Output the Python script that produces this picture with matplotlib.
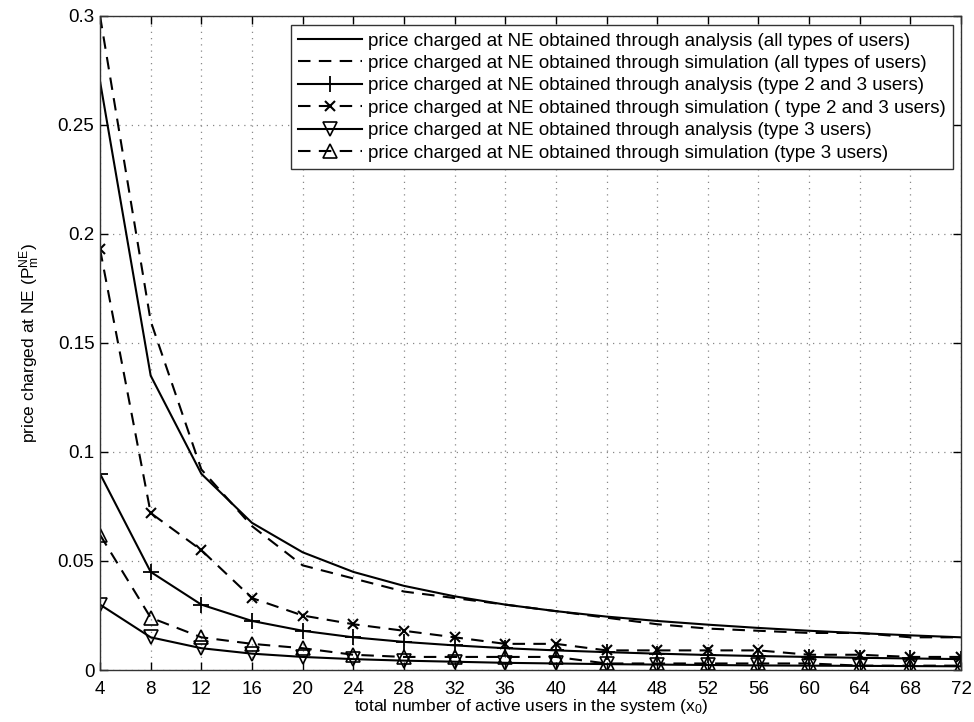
import matplotlib
matplotlib.use("Agg")
import matplotlib.pyplot as plt

plt.rcParams['font.family'] = ['Liberation Sans', 'DejaVu Sans']
plt.rcParams['mathtext.default'] = 'regular'

# number of active users
users = [4, 8, 12, 16, 20, 24, 28, 32, 36, 40, 44, 48, 52, 56, 60, 64, 68, 72]

# price at NE
ana_all = [0.27, 0.135, 0.09, 0.0675, 0.054, 0.045, 0.0386, 0.0338, 0.030, 0.027,
           0.0245, 0.0225, 0.0208, 0.0193, 0.018, 0.0169, 0.0159, 0.015]
sim_all = [0.30, 0.160, 0.092, 0.066, 0.048, 0.042, 0.036, 0.033, 0.030, 0.027,
           0.024, 0.021, 0.019, 0.018, 0.017, 0.017, 0.015, 0.015]
ana_23 = [0.09, 0.045, 0.030, 0.0225, 0.018, 0.015, 0.0129, 0.0113, 0.010, 0.009,
          0.0082, 0.0075, 0.0069, 0.0064, 0.006, 0.0056, 0.0053, 0.005]
sim_23 = [0.193, 0.072, 0.055, 0.033, 0.025, 0.021, 0.018, 0.015, 0.012, 0.012,
          0.009, 0.009, 0.009, 0.009, 0.007, 0.007, 0.006, 0.006]
ana_3 = [0.030, 0.015, 0.010, 0.0075, 0.006, 0.005, 0.0043, 0.0038, 0.0033, 0.003,
         0.0027, 0.0025, 0.0023, 0.0021, 0.002, 0.0019, 0.0018, 0.0017]
sim_3 = [0.062, 0.024, 0.015, 0.012, 0.010, 0.007, 0.006, 0.006, 0.006, 0.006,
         0.003, 0.003, 0.003, 0.003, 0.003, 0.002, 0.002, 0.002]

labels = [
    "price charged at NE obtained through analysis (all types of users)",
    "price charged at NE obtained through simulation (all types of users)",
    "price charged at NE obtained through analysis (type 2 and 3 users)",
    "price charged at NE obtained through simulation ( type 2 and 3 users)",
    "price charged at NE obtained through analysis (type 3 users)",
    "price charged at NE obtained through simulation (type 3 users)",
]

fig = plt.figure(figsize=(9.74, 7.22), dpi=100)
ax = fig.add_axes([0.1027, 0.072, 0.884, 0.906])

dash = (0, (6, 4))
lw = 1.5
ax.plot(users, ana_all, color='k', lw=lw, label=labels[0])
ax.plot(users, sim_all, color='k', lw=lw, ls=dash, label=labels[1])
ax.plot(users, ana_23, color='k', lw=lw, marker='+', ms=12, mew=1.3, label=labels[2])
ax.plot(users, sim_23, color='k', lw=lw, ls=dash, marker='x', ms=7, mew=1.5, label=labels[3])
ax.plot(users, ana_3, color='k', lw=lw, marker='v', ms=10, mfc='none', mew=1.2, label=labels[4])
ax.plot(users, sim_3, color='k', lw=lw, ls=dash, marker='^', ms=10, mfc='none', mew=1.2, label=labels[5])

ax.set_xlim(4, 72)
ax.set_ylim(0, 0.3)
ax.set_xticks(users)
ax.set_yticks([0, 0.05, 0.1, 0.15, 0.2, 0.25, 0.3])
ax.set_yticklabels(["0", "0.05", "0.1", "0.15", "0.2", "0.25", "0.3"])
ax.tick_params(direction='in', top=True, right=True, labelsize=13.5, length=6, width=1)
ax.tick_params(axis='x', pad=8)
ax.tick_params(axis='y', pad=4)
ax.grid(True, color='#888888', ls=(0, (1, 4)), lw=0.9)
for s in ax.spines.values():
    s.set_linewidth(1.0)
    s.set_color('#333333')

ax.set_xlabel(r"total number of active users in the system (x$_0$)", fontsize=12.5, labelpad=-1)
ax.set_ylabel(r"price charged at NE (P$_m^{NE}$)", fontsize=12.5, labelpad=11)

leg = ax.legend(loc='upper right', bbox_to_anchor=(0.9907, 0.986), fontsize=13.5, handlelength=3.4,
                fancybox=False, framealpha=1, edgecolor='#333333', borderpad=0.4,
                labelspacing=0.28, handletextpad=0.3, borderaxespad=0)
leg.get_frame().set_linewidth(1.0)

fig.savefig("out.png", dpi=100)
